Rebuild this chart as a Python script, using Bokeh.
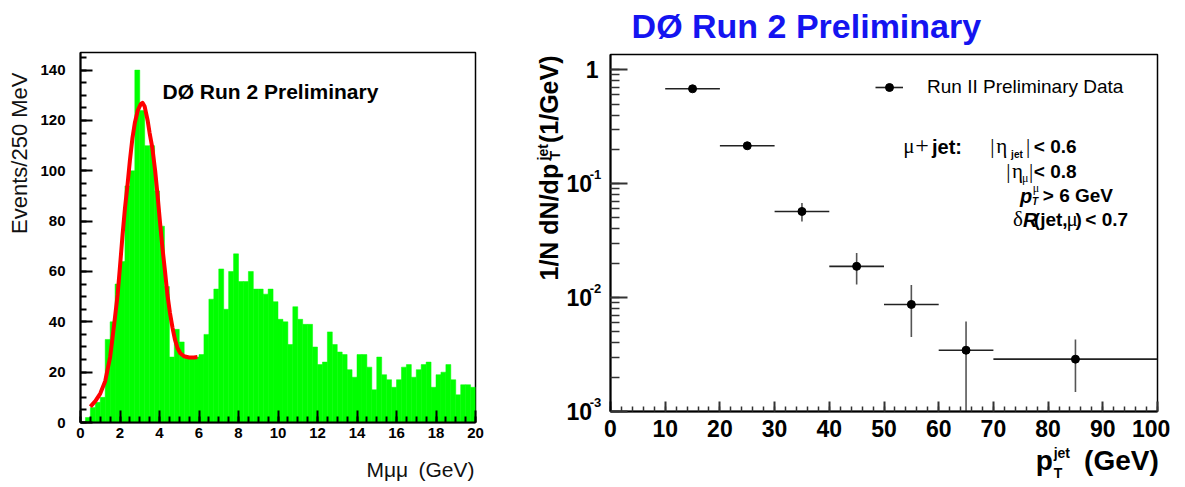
import math
import numpy as np
from bokeh.plotting import figure
from bokeh.models import (Range1d, SingleIntervalTicker, LogTicker, Label,
                          ColumnDataSource, Legend, LegendItem, CustomJSTickFormatter)
from bokeh.core.properties import value
from bokeh.embed import file_html
from bokeh.resources import INLINE

# ------------------------------------------------------------------ data
# left panel: dimuon invariant mass, 250 MeV bins from 0 to 20 GeV
mass_bin_width = 0.25
mass_counts = [0, 2, 6, 8, 10, 33, 40, 55, 64, 94,
               100, 140, 124, 110, 110, 92, 78, 54, 26, 37,
               32, 26, 26, 26, 27, 35, 49, 53, 61, 45,
               60, 67, 56, 56, 60, 53, 53, 51, 53, 48,
               41, 40, 31, 46, 41, 39, 39, 30, 23, 24,
               36, 31, 28, 27, 21, 18, 27, 27, 22, 13,
               26, 19, 17, 14, 17, 22, 23, 18, 21, 23,
               24, 14, 19, 20, 23, 17, 11, 15, 15, 14]
# J/psi fit curve
fit_mass = [0.5, 0.75, 1.0, 1.25, 1.5, 1.62, 1.75, 1.88, 2.0, 2.13, 2.25, 2.38,
            2.5, 2.63, 2.75, 2.9, 3.05, 3.14, 3.25, 3.4, 3.5, 3.64, 3.78, 3.9,
            4.02, 4.15, 4.28, 4.4, 4.53, 4.66, 4.78, 4.91, 5.05, 5.24, 5.5, 5.75, 5.92]
fit_events = [6.3, 8.5, 11.5, 16.4, 26, 33.6, 42, 50.8, 62, 74.6, 85, 94.4,
              104, 113, 119, 124, 126.5, 127, 125.5, 120, 115, 109, 100, 90.5,
              80, 69.3, 60, 50.8, 43.5, 37.6, 33, 29.6, 27.5, 26.3, 25.8, 25.8, 26]

# right panel: jet pT spectrum
pt_center = [15, 25, 35, 45, 55, 65, 85]
pt_halfwidth = [5, 5, 5, 5, 5, 5, 15]
dndpt = [0.68, 0.215, 0.057, 0.0188, 0.0087, 0.00345, 0.00288]
dndpt_err = [0.02, 0.015, 0.0105, 0.0058, 0.0042, 0.0027, 0.0014]
ytick_exponents = ["-1", "-2", "-3"]

SANS = "Liberation Sans"
SERIF = "Liberation Serif"
NB = "\u00a0"
MID = 0.35   # distance (in em) from the alphabetic baseline up to the text middle

# ------------------------------------------------------------------ left figure
LW, LH = 485, 487
LX0, LX1, LY0, LY1 = 80, 475, 52, 422   # frame, page pixels
XMAX1, YMAX1 = 20, 147


def lx(px):
    return (px - LX0) / (LX1 - LX0) * XMAX1


def ly(py):
    return (LY1 - py) / (LY1 - LY0) * YMAX1


p1 = figure(width=LW, height=LH, x_range=Range1d(0, XMAX1), y_range=Range1d(0, YMAX1),
            output_backend="svg", toolbar_location=None,
            min_border_left=LX0, min_border_right=LW - LX1,
            min_border_top=LY0, min_border_bottom=LH - LY1,
            background_fill_color="white", border_fill_color="white",
            styles={"position": "absolute", "left": "0px", "top": "0px"})
p1.xgrid.visible = False
p1.ygrid.visible = False
p1.outline_line_color = "black"
p1.outline_line_width = 1.5

edges = np.arange(len(mass_counts) + 1) * mass_bin_width
p1.quad(left=edges[:-1], right=edges[1:], bottom=0, top=mass_counts,
        fill_color="#00ff00", line_color="#00ff00", line_width=0.5)
p1.line(fit_mass, fit_events, line_color="#ff0000", line_width=4, line_join="round")

p1.xaxis.ticker = SingleIntervalTicker(interval=2, num_minor_ticks=4)
p1.yaxis.ticker = SingleIntervalTicker(interval=20, num_minor_ticks=4)
for ax in (p1.xaxis[0], p1.yaxis[0]):
    ax.major_tick_in = 12
    ax.major_tick_out = 0
    ax.minor_tick_in = 6
    ax.minor_tick_out = 0
    ax.axis_line_width = 2
    ax.major_tick_line_width = 2
    ax.minor_tick_line_width = 2
    ax.major_label_text_font = SANS
    ax.major_label_text_font_style = "bold"
    ax.major_label_text_font_size = "15px"
    ax.major_label_text_color = "black"
p1.xaxis[0].major_label_standoff = 5
p1.yaxis[0].major_label_standoff = 15


def lab(px_x, px_base, text, conv, size, font=SANS, style="normal", align="left",
        rotated=False, color="black"):
    """Text whose alphabetic baseline sits at the given page pixel position."""
    fx, fy = conv
    if rotated:   # reads bottom to top, baseline is a vertical line at px_x
        x, y, angle = fx(px_x - MID * size), fy(px_base), math.pi / 2
    else:
        x, y, angle = fx(px_x), fy(px_base - MID * size), 0.0
    return Label(x=x, y=y, text=text, text_font=font, text_font_style=style,
                 text_font_size=f"{size}px", text_align=align, text_baseline="middle",
                 angle=angle, text_color=color)


LCONV = (lx, ly)
p1.add_layout(lab(162, 98, "DØ Run 2 Preliminary", LCONV, 21, style="bold"))
p1.add_layout(lab(27, 72, "Events/250 MeV", LCONV, 22, align="right", rotated=True,
                  color="#111"), "left")
p1.add_layout(lab(366, 476, "Mμμ", LCONV, 21, color="#111"), "above")
p1.add_layout(lab(418, 476, "(GeV)", LCONV, 21, color="#111"), "below")

# ------------------------------------------------------------------ right figure
RW, RH = 1185 - LW, 487
ROFF = LW
RX0, RX1, RY0, RY1 = 610, 1163, 54, 411
XMAX2 = 100
YLO, YHI = 0.001, 1.36
LTOP, LBOT = math.log10(YHI), math.log10(YLO)


def rx(px):
    return (px - RX0) / (RX1 - RX0) * XMAX2


def ry(py):
    return 10 ** (LTOP - (py - RY0) / (RY1 - RY0) * (LTOP - LBOT))


RCONV = (rx, ry)
p2 = figure(width=RW, height=RH, x_range=Range1d(0, XMAX2), y_range=Range1d(YLO, YHI),
            y_axis_type="log", output_backend="svg", toolbar_location=None,
            min_border_left=RX0 - ROFF, min_border_right=RW - (RX1 - ROFF),
            min_border_top=RY0, min_border_bottom=RH - RY1,
            background_fill_color="white", border_fill_color="white",
            styles={"position": "absolute", "left": f"{ROFF}px", "top": "0px"})
p2.xgrid.visible = False
p2.ygrid.visible = False
p2.outline_line_color = "black"
p2.outline_line_width = 1.5

xc = np.array(pt_center, dtype=float)
hw = np.array(pt_halfwidth, dtype=float)
yv = np.array(dndpt)
ye = np.array(dndpt_err)
src = ColumnDataSource(dict(x=xc, y=yv, xl=xc - hw, xr=xc + hw, yl=yv - ye, yh=yv + ye))
hbar = p2.segment(x0="xl", y0="y", x1="xr", y1="y", source=src, line_color="#222", line_width=1.6)
vbar = p2.segment(x0="x", y0="yl", x1="x", y1="yh", source=src, line_color="#555", line_width=1.6)
pts = p2.scatter(x="x", y="y", source=src, size=8, fill_color="black", line_color="black")

p2.xaxis.ticker = SingleIntervalTicker(interval=10, num_minor_ticks=5)
p2.yaxis.ticker = LogTicker(num_minor_ticks=10)
p2.yaxis.formatter = CustomJSTickFormatter(code="return tick > 0.5 ? '1' : '10" + NB + "';")
xa, ya = p2.xaxis[0], p2.yaxis[0]
xa.major_tick_in, xa.minor_tick_in = 10, 5
ya.major_tick_in, ya.minor_tick_in = 17, 9
for ax in (xa, ya):
    ax.major_tick_out = 0
    ax.minor_tick_out = 0
    ax.axis_line_width = 2
    ax.major_tick_line_width = 2
    ax.minor_tick_line_width = 1.5
    ax.major_tick_line_color = "#333"
    ax.minor_tick_line_color = "#333"
    ax.major_label_text_font = SANS
    ax.major_label_text_font_style = "bold"
    ax.major_label_text_font_size = "23px"
    ax.major_label_text_color = "black"
xa.major_label_standoff = 4
ya.major_label_standoff = 12
xa.major_label_overrides = {100: "100" + NB + NB}

# exponents of the decade labels (one multi-line label, one line per decade)
p2.add_layout(Label(x=rx(589), y=0.01, y_offset=9, text="\n".join(ytick_exponents),
                    text_font=SANS, text_font_style="bold", text_font_size="13px",
                    text_align="left", text_baseline="middle", text_line_height=7.6,
                    text_color="black"), "right")

# y axis title: 1/N dN/dp_T^jet (1/GeV)
p2.add_layout(lab(557, 280, "1/N dN/dp" + NB * 3 + "(1/GeV)", RCONV, 25, style="bold",
                  rotated=True), "left")
p2.add_layout(lab(559, 159, "T", RCONV, 14, style="bold", rotated=True), "left")
p2.add_layout(lab(547, 160, "jet", RCONV, 14, style="bold", rotated=True), "left")

# x axis title: p_T^jet (GeV)
p2.add_layout(lab(1040, 470, "p" + NB * 4 + "(GeV)", RCONV, 28, style="bold"), "below")
p2.add_layout(Label(x=rx(1058), y=ry(462), text="jet\nT", text_font=SANS, text_font_style="bold",
                    text_font_size="14px", text_align="left", text_baseline="middle",
                    text_line_height=1.25, text_color="black"), "right")

# title
p2.add_layout(lab(808, 37, "DØ Run 2 Preliminary", RCONV, 34, style="bold",
                  align="center", color="#1414f0"), "above")

# cuts annotation (inside the frame)
cuts = [
    ("μ", 906, 153, SERIF, "normal", 21),
    ("+", 918, 153, SERIF, "normal", 24),
    ("jet:", 935, 153, SANS, "bold", 20),
    ("|", 994, 153, SERIF, "normal", 21),
    ("η", 1000, 153, SERIF, "normal", 21),
    ("jet", 1015, 157, SANS, "bold", 10),
    ("|", 1030, 153, SERIF, "normal", 21),
    ("< 0.6", 1038, 153, SANS, "bold", 19),
    ("|", 1010, 178, SERIF, "normal", 21),
    ("η", 1016, 178, SERIF, "normal", 21),
    ("μ", 1026, 182, SERIF, "normal", 12),
    ("|", 1033, 178, SERIF, "normal", 21),
    ("< 0.8", 1038, 178, SANS, "bold", 19),
    ("p", 1024, 202, SANS, "bold italic", 20),
    ("μ", 1037, 192, SERIF, "normal", 12),
    ("T", 1036, 204, SANS, "bold italic", 10),
    ("> 6 GeV", 1047, 202, SANS, "bold", 19),
    ("δ", 1017, 226, SERIF, "normal", 21),
    ("R", 1027, 226, SANS, "bold italic", 20),
    ("(jet,", 1038, 226, SANS, "bold", 19),
    ("μ", 1071, 226, SERIF, "normal", 21),
    (")", 1080, 226, SANS, "bold", 19),
    ("< 0.7", 1090, 226, SANS, "bold", 19),
]
for txt, px, py, fnt, style, size in cuts:
    p2.add_layout(lab(px, py, txt, RCONV, size, font=fnt, style=style))

legend = Legend(items=[LegendItem(label=value("Run II Preliminary Data"), renderers=[hbar, pts])],
                location=(875 - RX0, (RY1 - 88) - 10), glyph_width=28, glyph_height=20,
                label_height=20, label_standoff=24, padding=0, margin=0, spacing=0,
                border_line_alpha=0, background_fill_alpha=0,
                label_text_font=SANS, label_text_font_size="19px", label_text_color="black")
p2.add_layout(legend)

open("out.html", "w").write(file_html([p1, p2], INLINE))
